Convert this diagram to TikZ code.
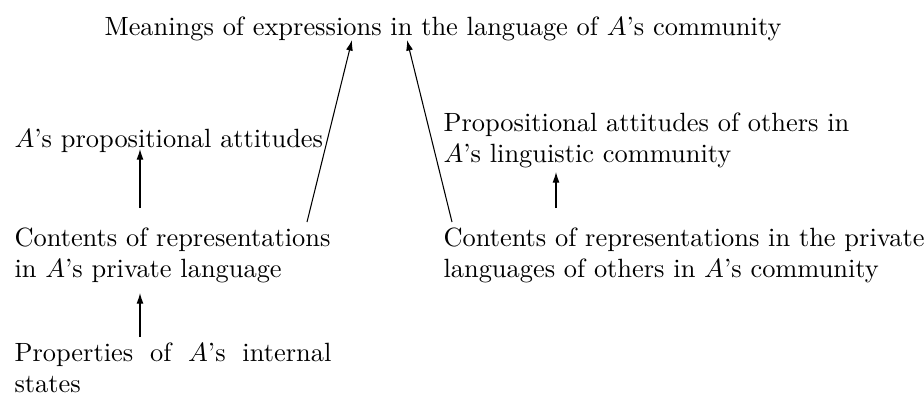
\documentclass[tikz,border=0pt]{standalone}
\usetikzlibrary{arrows.meta,calc}
\begin{document}
\begin{tikzpicture}[x=0.3788pt,y=-0.3788pt,
  lbl/.style={inner sep=0pt, anchor=base west},
  arr/.style={-{Latex[length=4pt,width=2.6pt]}, line width=0.4pt}]
\useasboundingbox (0,0) rectangle (924,394);
\node[inner sep=0pt, anchor=base] (mean) at (443,35) {Meanings of expressions in the language of $A$'s community};
\node[lbl] (pa) at (14,147) {\parbox[t]{120pt}{$A$'s propositional attitudes}};
\node[lbl] (po) at (443,131) {\parbox[t]{185pt}{\raggedright Propositional attitudes of others in\\ $A$'s linguistic community}};
\node[lbl] (cl) at (14,246) {\parbox[t]{120pt}{\raggedright Contents of representations\\ in $A$'s private language}};
\node[lbl] (cr) at (443,246) {\parbox[t]{185pt}{\raggedright Contents of representations in the private\\ languages of others in $A$'s community}};
\node[lbl] (pr) at (14,361) {\parbox[t]{120pt}{\hyphenpenalty=10000 Properties of $A$'s internal\linebreak states}};
\draw[arr] ($(pa.base west)+(126,61)$) -- ($(pa.base west)+(126,2)$);
\draw[arr] ($(pr.base west)+(126,-24)$) -- ($(cl.base west)+(126,47)$);
\draw[arr] ($(po.base west)+(113,77)$) -- ($(po.base west)+(113,41)$);
\draw[arr] ($(cl.base west)+(293,-24)$) -- ($(mean.base)+(-91,5)$);
\draw[arr] ($(cr.base west)+(9,-24)$) -- ($(mean.base)+(-36,5)$);
\end{tikzpicture}
\end{document}
